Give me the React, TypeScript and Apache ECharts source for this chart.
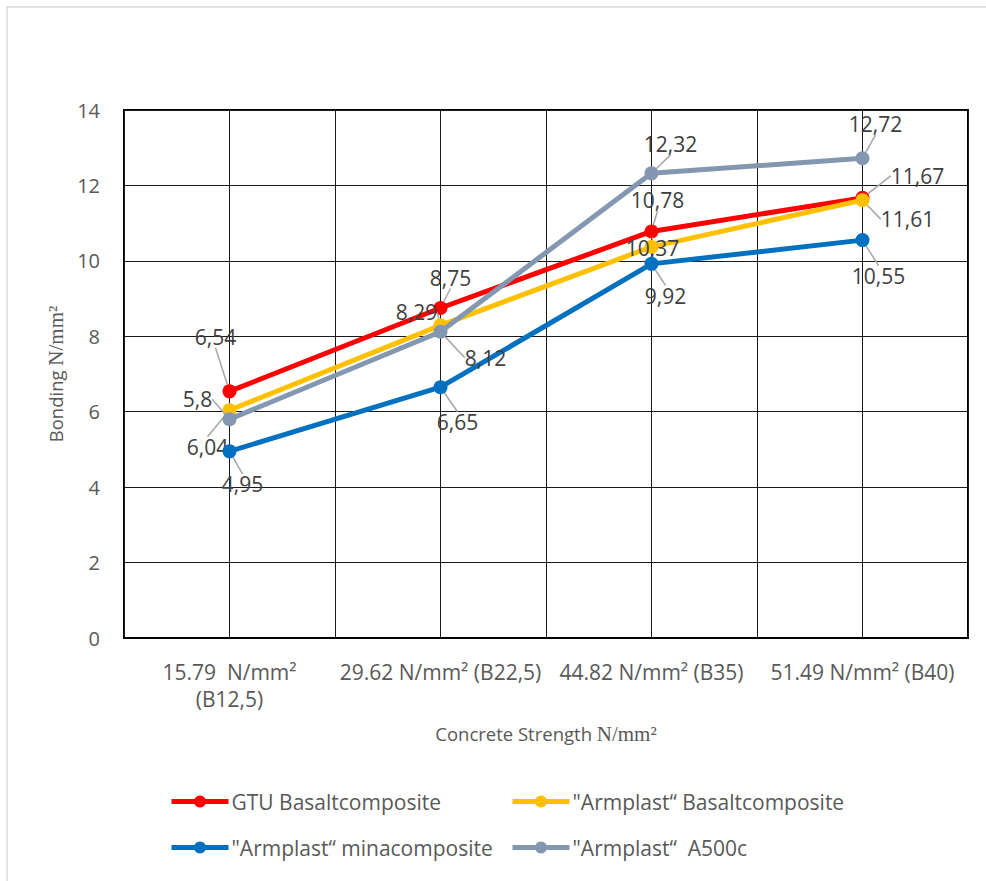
import React, { useEffect, useRef } from "react";
import * as echarts from "echarts";

// ---- data ----
const categories = [
  "15.79  N/mm²\n(B12,5)",
  "29.62 N/mm² (B22,5)",
  "44.82 N/mm² (B35)",
  "51.49 N/mm² (B40)",
];
const gtuBasalt = [6.54, 8.75, 10.78, 11.67];
const armplastBasalt = [6.04, 8.29, 10.37, 11.61];
const armplastMina = [4.95, 6.65, 9.92, 10.55];
const armplastA500c = [5.8, 8.12, 12.32, 12.72];
const seriesNames = [
  "GTU Basaltcomposite",
  "\"Armplast\u201C Basaltcomposite",
  "\"Armplast\u201C minacomposite",
  "\"Armplast\u201C  A500c",
];
const yMin = 0;
const yMax = 14;
const yStep = 2;

// ---- style ----
const colors = ["#FF0000", "#FFC000", "#0070C0", "#8497B0"];
const labelOffsets: number[][][] = [
  [[-14, -54], [10, -30], [6, -31], [55, -22]],
  [[-22, 37], [-24, -13], [1, 1], [45, 19]],
  [[13, 33], [17, 35], [14, 32], [16, 36]],
  [[-32, -20], [45, 26], [19, -29], [13, -34]],
];
const FONT = "'Open Sans', 'Noto Sans', sans-serif";
const SERIF = "'Liberation Serif', serif";

export default function App() {
  const ref = useRef<HTMLDivElement>(null);
  useEffect(() => {
    if (!ref.current) return;
    const chart = echarts.init(ref.current, undefined, { renderer: "svg" });
    const allData = [gtuBasalt, armplastBasalt, armplastMina, armplastA500c];
    const series = allData.map((d, si) => ({
      name: seriesNames[si],
      type: "line",
      xAxisIndex: 0,
      yAxisIndex: 0,
      data: d,
      symbol: "circle",
      symbolSize: 14,
      color: colors[si],
      lineStyle: { width: 5, color: colors[si] },
      itemStyle: { color: colors[si] },
      label: {
        show: true,
        position: "inside",
        fontFamily: FONT,
        fontSize: 21,
        color: "#404040",
        formatter: (p: any) => String(p.value).replace(".", ","),
      },
      labelLine: { show: true, lineStyle: { color: "#A6A6A6", width: 1.5 } },
      labelLayout: (p: any) => ({
        dx: labelOffsets[si][p.dataIndex][0],
        dy: labelOffsets[si][p.dataIndex][1],
      }),
      z: 2 + si,
    }));

    const legendCommon = {
      orient: "vertical",
      top: 791,
      padding: 0,
      itemWidth: 57,
      itemHeight: 15,
      itemGap: 25,
      lineStyle: { width: 5 },
      textStyle: { fontFamily: FONT, fontSize: 21, color: "#595959", padding: [0, 0, 0, -2] },
    };

    chart.setOption({
      animation: false,
      backgroundColor: "#ffffff",
      textStyle: { fontFamily: FONT },
      graphic: [
        {
          type: "rect",
          shape: { x: 7, y: 7, width: 1200, height: 1200 },
          style: { fill: "none", stroke: "#D9D9D9", lineWidth: 1.5 },
          silent: true,
          z: 0,
        },
      ],
      grid: {
        left: 124,
        right: 18,
        top: 110,
        bottom: 243,
        show: true,
        borderColor: "#000000",
        borderWidth: 2,
        backgroundColor: "transparent",
      },
      legend: [
        { ...legendCommon, left: 169, data: [seriesNames[0], seriesNames[2]] },
        { ...legendCommon, left: 510, data: [seriesNames[1], seriesNames[3]] },
      ],
      xAxis: [
        {
          type: "category",
          data: categories,
          boundaryGap: true,
          axisTick: { show: false },
          axisLine: { show: true, lineStyle: { color: "#000000", width: 2 } },
          splitLine: { show: false },
          axisLabel: {
            interval: 0,
            margin: 20,
            fontFamily: FONT,
            fontSize: 21,
            lineHeight: 27,
            color: "#595959",
            align: "center",
          },
          name: "{a|Concrete Strength }{b|N/mm²}",
          nameLocation: "middle",
          nameGap: 85,
          nameTextStyle: {
            rich: {
              a: { fontFamily: FONT, fontSize: 18.5, color: "#595959" },
              b: { fontFamily: SERIF, fontSize: 21, color: "#595959" },
            },
          },
        },
        {
          type: "value",
          min: 0,
          max: 8,
          interval: 1,
          position: "bottom",
          axisLabel: { show: false },
          axisLine: { show: false },
          axisTick: { show: false },
          splitLine: { show: true, lineStyle: { color: "#1a1a1a", width: 1 } },
        },
      ],
      yAxis: {
        type: "value",
        min: yMin,
        max: yMax,
        interval: yStep,
        axisLine: { show: false },
        axisTick: { show: false },
        splitLine: { show: true, lineStyle: { color: "#1a1a1a", width: 1 } },
        axisLabel: { margin: 24, fontFamily: FONT, fontSize: 20, color: "#595959" },
        name: "{a|Bonding }{b|N/mm²}",
        nameLocation: "middle",
        nameGap: 56,
        nameRotate: 90,
        nameTextStyle: {
          rich: {
            a: { fontFamily: FONT, fontSize: 18.5, color: "#595959" },
            b: { fontFamily: SERIF, fontSize: 21, color: "#595959" },
          },
        },
      },
      series,
    });
    return () => chart.dispose();
  }, []);
  return (
    <div
      ref={ref}
      style={{ position: "absolute", left: 0, top: 0, width: 986, height: 881 }}
    />
  );
}
